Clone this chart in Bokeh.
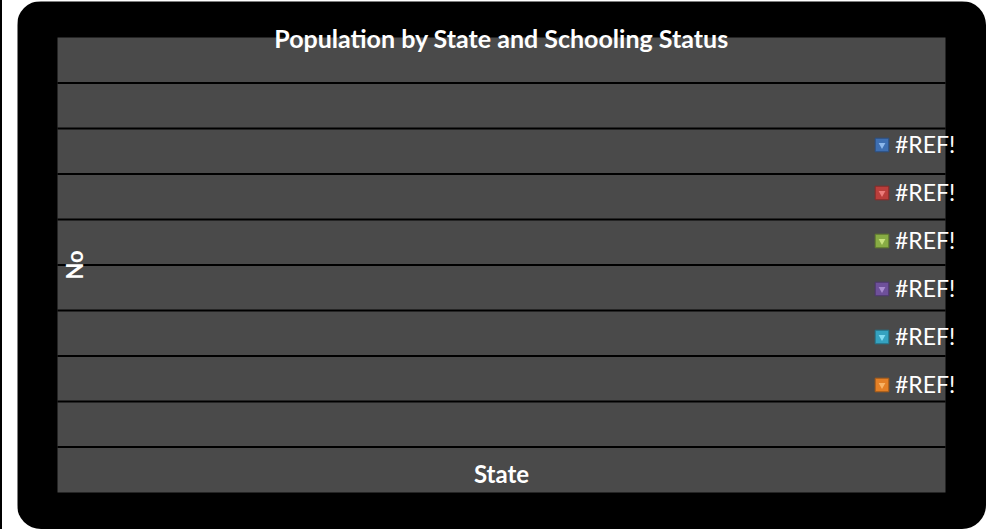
import math
from bokeh.plotting import figure
from bokeh.models import (Range1d, Label, Legend, LegendItem, BoxAnnotation,
                          ColumnDataSource, Div)
from bokeh.layouts import row
from bokeh.embed import file_html
from bokeh.resources import INLINE

# ---- chart content (the source chart is empty: its ranges are #REF!) ----
title_text = "Population by State and Schooling Status"
x_label = "State"
y_label = "No"
series_names = ["#REF!", "#REF!", "#REF!", "#REF!", "#REF!", "#REF!"]
# every series value is a #REF! error -> no plottable value
series_x = [[math.nan]] * 6
series_values = [[math.nan]] * 6
y_ticks = [0, 1, 2, 3, 4, 5, 6, 7, 8, 9, 10]
x_extent = [0, 1]

# ---- styles ----
series_fill = ["#3E6FB2", "#BA3E3B", "#88AC44", "#6E509A", "#35A2C0", "#E48026"]
series_line = ["#2A4F82", "#862A28", "#5F7A2E", "#4C366C", "#237388", "#A65A18"]
series_hi = ["#8DB8EC", "#EC7C7A", "#C8E27E", "#A98CD0", "#82DCF2", "#F9B466"]
FONT = "Lato"

W, H = 969, 528
PL, PR, PT, PB = 40, 41, 36, 37          # plot-area insets in pixels
fw, fh = W - PL - PR, H - PT - PB
ymin, ymax = y_ticks[0], y_ticks[-1]
xu = (x_extent[1] - x_extent[0]) / fw
yu = (ymax - ymin) / fh

p = figure(width=W, height=H,
           x_range=Range1d(x_extent[0] - PL * xu, x_extent[1] + PR * xu),
           y_range=Range1d(ymin - PB * yu, ymax + PT * yu),
           output_backend="svg", toolbar_location=None, title=None,
           min_border=0)
p.margin = (1, 0, 0, 0)
p.styles = {"border-radius": "24px", "overflow": "hidden"}
p.background_fill_color = "black"
p.border_fill_color = "black"
p.outline_line_color = None
p.xaxis.visible = False
p.yaxis.visible = False
p.grid.visible = False

# plot area
p.add_layout(BoxAnnotation(left=x_extent[0], right=x_extent[1],
                           bottom=ymin, top=ymax, fill_color="#4A4A4A",
                           fill_alpha=1.0, line_color=None, level="image"))
# horizontal gridlines at the value-axis ticks
inner = y_ticks[1:-1]
p.segment(x0=[x_extent[0]] * len(inner), x1=[x_extent[1]] * len(inner),
          y0=inner, y1=inner, line_color="black", line_width=2)

items = []
for name, xs, vals, fc, lc, hc in zip(series_names, series_x, series_values,
                                       series_fill, series_line, series_hi):
    src = ColumnDataSource(dict(x=xs, y=vals))
    r1 = p.quad(left="x", right="x", bottom=0, top="y", source=src,
                fill_color=fc, line_color=lc, line_width=1)
    r2 = p.scatter("x", "y", source=src, marker="inverted_triangle",
                   fill_color=hc, line_color=None)
    items.append(LegendItem(label=name, renderers=[r1, r2]))

legend = Legend(items=items, location=(856, 131),
                border_line_color=None, background_fill_alpha=0,
                label_text_color="white", label_text_font=FONT,
                label_text_font_size="23px", glyph_width=17, glyph_height=17,
                label_height=20, label_standoff=5, padding=0, margin=0,
                spacing=20)
p.add_layout(legend)

p.add_layout(Label(x=0.5, y=9.99, text=title_text, text_align="center",
                   text_baseline="alphabetic", text_color="white",
                   text_font=FONT, text_font_style="bold",
                   text_font_size="25px"))
p.add_layout(Label(x=0.5, y=0.4176, text=x_label, text_align="center",
                   text_baseline="alphabetic", text_color="white",
                   text_font=FONT, text_font_style="bold",
                   text_font_size="24px"))
p.add_layout(Label(x=0.0191, y=5, text=y_label, text_align="center",
                   text_baseline="alphabetic", text_color="white",
                   text_font=FONT, text_font_style="bold",
                   text_font_size="22px", angle=1.5707963))

left_rule = Div(width=2, height=529, margin=0,
                styles={"background-color": "black"})
layout = row(left_rule, p, spacing=15)

open("out.html", "w").write(file_html(layout, INLINE))
